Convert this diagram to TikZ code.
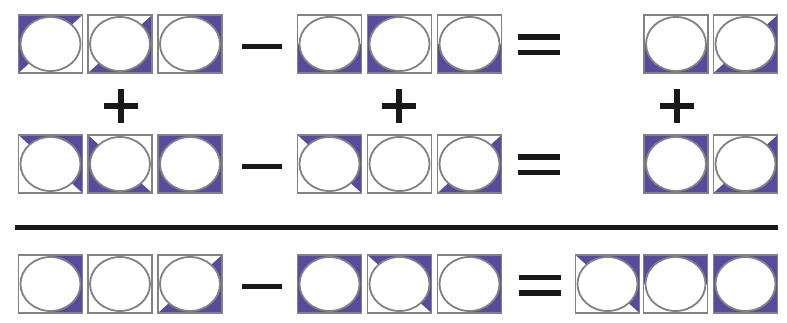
\documentclass[tikz,border=0pt]{standalone}
\usetikzlibrary{shapes.geometric}
\definecolor{tilepurple}{RGB}{88,74,158}
\definecolor{tilegray}{RGB}{130,130,130}
\definecolor{opblack}{RGB}{25,25,25}
\tikzset{
  tilebox/.style={rectangle, minimum width=64pt, minimum height=58pt, inner sep=0pt, outer sep=0pt, fill=white},
  hole/.style={ellipse, draw=tilegray, line width=1.8pt, fill=white, minimum width=60pt, minimum height=54pt, inner sep=0pt},
  frame/.style={draw=tilegray, line width=1.6pt},
  opbar/.style={fill=opblack, draw=none}
}
\def\patF#1{(#1.north west) rectangle (#1.south east)}
\def\patN#1{(#1.center) circle (0pt)}
\def\patUL#1{(#1.north west) -- (#1.north east) -- (#1.south west) -- cycle}
\def\patLR#1{(#1.north east) -- (#1.south east) -- (#1.south west) -- cycle}
\def\patUR#1{(#1.north west) -- (#1.north east) -- (#1.south east) -- cycle}
\def\patLL#1{(#1.north west) -- (#1.south west) -- (#1.south east) -- cycle}
\def\patR#1{(#1.north) rectangle (#1.south east)}
\def\patL#1{(#1.north west) rectangle (#1.south)}
\def\patT#1{(#1.north west) rectangle (#1.east)}
\def\patB#1{(#1.west) rectangle (#1.south east)}
\newcommand\tile[4]{%
  \node[tilebox] (#1) at (#2,#3) {};
  \fill[tilepurple] \csname pat#4\endcsname{#1};
  \node[hole] (#1e) at (#1.center) {};
  \draw[frame] (#1.north west) rectangle (#1.south east);
}
\newcommand\minussign[3]{% name, x, y
  \coordinate (#1) at (#2,#3);
  \fill[opbar] ([xshift=-20pt,yshift=-2.7pt]#1) rectangle ([xshift=20pt,yshift=2.7pt]#1);
}
\newcommand\equalsign[3]{%
  \coordinate (#1) at (#2,#3);
  \fill[opbar] ([xshift=-21pt,yshift=5pt]#1) rectangle ([xshift=21pt,yshift=10.5pt]#1);
  \fill[opbar] ([xshift=-21pt,yshift=-5pt]#1) rectangle ([xshift=21pt,yshift=-10.5pt]#1);
}
\newcommand\plussign[3]{%
  \coordinate (#1) at (#2,#3);
  \fill[opbar] ([xshift=-17pt,yshift=-3pt]#1) rectangle ([xshift=17pt,yshift=3pt]#1);
  \fill[opbar] ([xshift=-3pt,yshift=-17pt]#1) rectangle ([xshift=3pt,yshift=17pt]#1);
}
\begin{document}
\begin{tikzpicture}[x=1pt,y=-1pt]
\useasboundingbox[fill=white] (0,0) rectangle (787,323);
% row 1
\tile{a11}{50.5}{44}{UL}
\tile{a12}{120}{44}{LR}
\tile{a13}{190}{44}{R}
\minussign{m1}{262}{46.5}
\tile{b11}{329.5}{44}{B}
\tile{b12}{399.5}{44}{L}
\tile{b13}{469.5}{44}{B}
\equalsign{e1}{539}{45}
\tile{c11}{676}{44}{B}
\tile{c12}{745.5}{44}{LR}
% pluses
\plussign{p1}{121}{106}
\plussign{p2}{399}{106}
\plussign{p3}{677}{106}
% row 2
\tile{a21}{50.5}{164}{UR}
\tile{a22}{120}{164}{LL}
\tile{a23}{190}{164}{F}
\minussign{m2}{262}{166.5}
\tile{b21}{329.5}{164}{UR}
\tile{b22}{399.5}{164}{N}
\tile{b23}{469.5}{164}{LR}
\equalsign{e2}{539}{165}
\tile{c21}{676}{164}{F}
\tile{c22}{745.5}{164}{LR}
% bar
\coordinate (l1) at (15,228);
\coordinate (l2) at (778,228);
\draw[opblack, line width=5pt] (l1) -- (l2);
% row 3
\tile{a31}{50.5}{284}{R}
\tile{a32}{120}{284}{N}
\tile{a33}{190}{284}{LR}
\minussign{m3}{262}{286.5}
\tile{b31}{329.5}{284}{F}
\tile{b32}{399.5}{284}{UR}
\tile{b33}{469.5}{284}{R}
\equalsign{e3}{540}{285}
\tile{c31}{607.5}{284}{UR}
\tile{c32}{675.5}{284}{T}
\tile{c33}{745.5}{284}{F}
\end{tikzpicture}
\end{document}
